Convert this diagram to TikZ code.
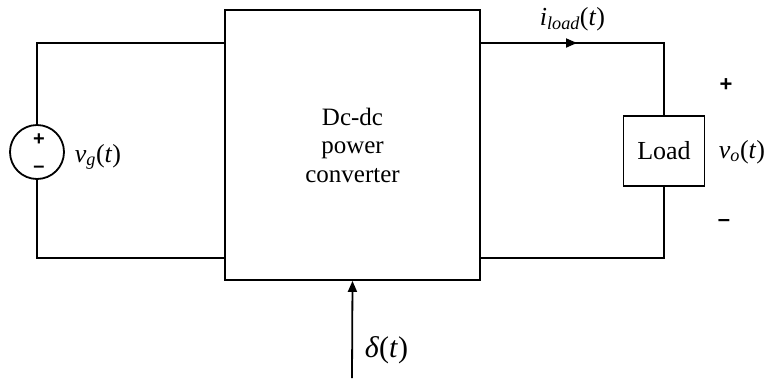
\documentclass[tikz,border=0pt]{standalone}
\usepackage{fontspec}
\setmainfont{Liberation Serif}
\setsansfont{Liberation Sans}
\usetikzlibrary{arrows.meta}
\newcommand{\sub}[1]{\textsubscript{\itshape #1}}
\begin{document}
\begin{tikzpicture}[x=1pt,y=-1pt,line width=1.8pt,
  wire/.style={draw,line width=1.8pt},
  lbl/.style={font=\fontsize{26}{30}\selectfont,inner sep=0pt},
  sgn/.style={font=\sffamily\bfseries\fontsize{22}{24}\selectfont,inner sep=0pt},
  ssgn/.style={font=\sffamily\bfseries\fontsize{20}{22}\selectfont,inner sep=0pt},
  tip/.style={-{Triangle[length=11pt,width=9pt]}}]
\useasboundingbox (0,0) rectangle (772,381);
% converter box
\node[draw,line width=1.8pt,minimum width=255pt,minimum height=270pt,inner sep=0pt,
  align=center,font=\fontsize{25}{28.5}\selectfont] (conv) at (352.5,145) {Dc-dc\\power\\converter};
% source
\node[draw,circle,minimum size=54pt,inner sep=0pt] (src) at (37,152) {};
\node[ssgn] (sp) at (39,140) {+};
\node[ssgn] (sm) at (39,169) {\textendash};
\node[lbl,anchor=west] (vg) at (74,157) {\textit{v}\sub{g}(\textit{t})};
\coordinate (lt) at (37,43);
\coordinate (lb) at (37,258);
\draw[wire] (src.north) -- (lt) -- (conv.west |- lt);
\draw[wire] (src.south) -- (lb) -- (conv.west |- lb);
% load
\node[draw,minimum width=81pt,minimum height=70pt,inner sep=0pt,font=\fontsize{26}{28}\selectfont] (load) at (664,151) {Load};
\coordinate (rt) at (664,43);
\coordinate (rb) at (664,258);
\coordinate (am) at (577,43);
\draw[wire] (conv.east |- rt) -- (rt) -- (load.north);
\draw[wire] (load.south) -- (rb) -- (conv.east |- rb);
\draw[tip] (conv.east |- rt) -- (am);
\node[lbl,anchor=west] (il) at (539,19) {\textit{i}\sub{load}(\textit{t})};
\node[sgn] (op) at (726,85) {+};
\node[sgn] (om) at (724,223) {\textendash};
\node[lbl,anchor=west] (vo) at (718,152) {\textit{v}\sub{o}(\textit{t})};
% control
\coordinate (dc) at (352,378);
\draw[tip] (dc) -- (conv.south);
\node[lbl,anchor=west,font=\fontsize{30}{32}\selectfont] (dl) at (364,350) {\textit{δ}(\textit{t})};
\end{tikzpicture}
\end{document}
